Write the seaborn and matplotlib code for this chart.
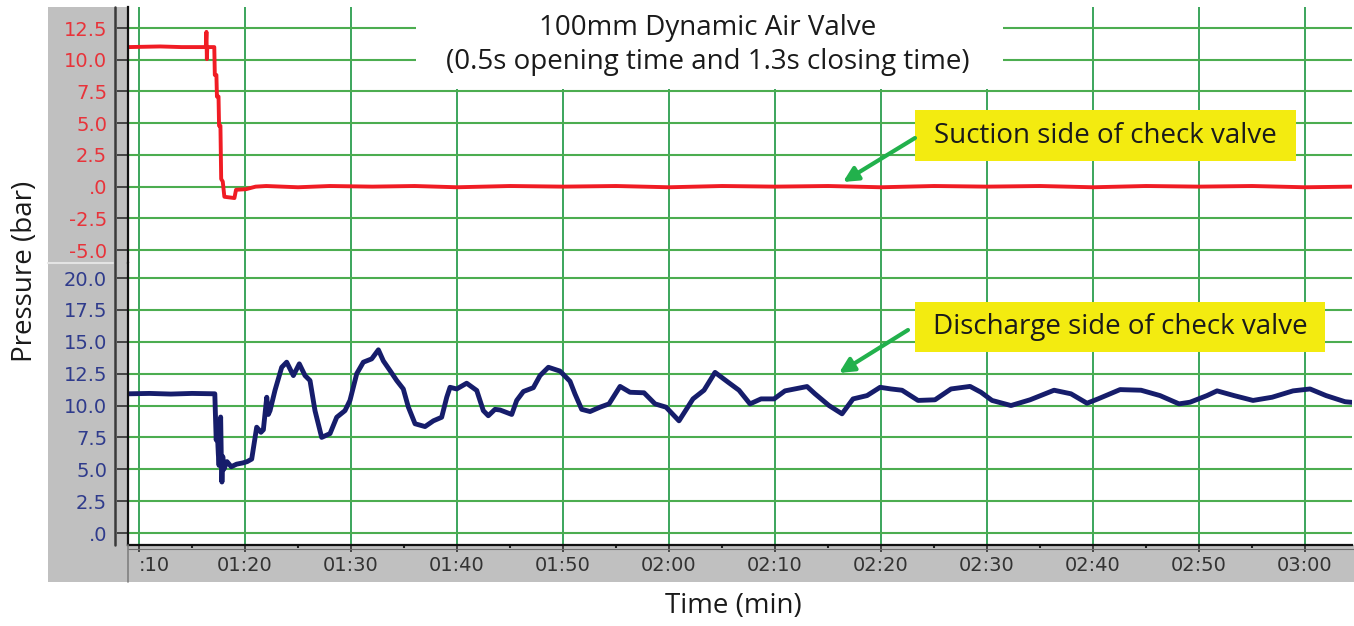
import numpy as np
import pandas as pd
import matplotlib
matplotlib.use('Agg')
import matplotlib.pyplot as plt
from matplotlib.patches import Rectangle, FancyArrowPatch
from matplotlib.lines import Line2D
from matplotlib.ticker import MultipleLocator
import seaborn as sns

# time axis in seconds (labels read mm:ss), pressure in bar
suction_t = [69.0, 72.0, 74.0, 76.3, 76.36, 76.4, 76.44, 77.1, 77.15, 77.3, 77.35, 77.5,
             77.55, 77.68, 77.75, 77.9, 78.05, 79.0, 79.15, 80.1, 81.0, 82.0, 85.0, 88.0,
             92.0, 96.0, 100.0, 105.0, 110.0, 115.0, 120.0, 125.0, 130.0, 135.0, 140.0,
             145.0, 150.0, 155.0, 160.0, 165.0, 170.0, 175.0, 180.0, 184.4]
suction_p = [11.0, 11.05, 11.0, 11.0, 12.2, 10.05, 11.0, 11.0, 8.8, 8.8, 7.1, 7.1,
             4.8, 4.8, 0.6, 0.4, -0.8, -0.9, -0.25, -0.2, 0.0, 0.05, -0.05, 0.05,
             0.0, 0.05, -0.05, 0.05, 0.0, 0.05, -0.05, 0.05, 0.0, 0.05, -0.05,
             0.05, 0.0, 0.05, -0.05, 0.05, 0.0, 0.05, -0.05, 0.0]

discharge_t = [69.0, 71.0, 73.0, 75.0, 77.15, 77.2, 77.28, 77.38, 77.48, 77.55, 77.62, 77.7,
               77.76, 77.82, 77.9, 78.0, 78.3, 78.7, 79.2, 79.8, 80.2, 80.63, 81.1, 81.5,
               81.73, 82.05, 82.2, 82.36, 82.83, 83.46, 83.93, 84.56, 85.12, 85.66, 86.13,
               86.6, 87.23, 88.02, 88.65, 89.43, 89.9, 90.54, 91.16, 91.95, 92.58, 93.05,
               93.68, 94.31, 94.93, 95.41, 96.04, 96.98, 97.77, 98.55, 99.03, 99.34, 99.97,
               100.91, 101.86, 102.48, 102.95, 103.58, 104.06, 105.16, 105.63, 106.26, 107.2,
               107.83, 108.62, 109.72, 110.66, 111.13, 111.76, 112.55, 113.49, 114.34, 115.38,
               116.32, 117.64, 118.68, 119.72, 120.94, 122.26, 123.3, 124.34, 125.57, 126.6,
               127.64, 128.68, 129.91, 130.94, 133.02, 133.77, 135.09, 136.32, 137.36, 138.68,
               139.91, 140.94, 141.98, 143.49, 145.09, 146.6, 148.4, 149.43, 150.47, 152.26,
               154.06, 156.32, 157.92, 159.43, 160.47, 162.55, 164.53, 166.32, 168.11, 169.15,
               170.75, 171.7, 173.3, 175.09, 176.89, 178.87, 180.47, 181.98, 183.77, 184.4]
discharge_p = [10.92, 10.95, 10.9, 10.95, 10.92, 9.5, 7.3, 8.0, 6.2, 5.3, 6.6, 9.1,
               6.0, 4.0, 6.0, 5.0, 5.6, 5.2, 5.4, 5.5, 5.6, 5.8, 8.3, 7.9,
               8.1, 10.65, 9.3, 9.6, 11.2, 13.0, 13.4, 12.35, 13.27, 12.35, 11.96,
               9.6, 7.5, 7.8, 9.08, 9.6, 10.4, 12.5, 13.4, 13.66, 14.37, 13.5,
               12.74, 11.96, 11.3, 9.87, 8.57, 8.35, 8.8, 9.08, 10.65, 11.43, 11.3,
               11.75, 11.18, 9.6, 9.2, 9.7, 9.65, 9.3, 10.4, 11.1, 11.4,
               12.35, 13.0, 12.7, 11.9, 10.9, 9.7, 9.53, 9.87, 10.13, 11.5,
               11.04, 11.0, 10.13, 9.87, 8.8, 10.52, 11.2, 12.6, 11.83, 11.2,
               10.13, 10.52, 10.52, 11.15, 11.49, 10.92, 10.0, 9.35, 10.52, 10.78,
               11.43, 11.3, 11.2, 10.4, 10.45, 11.3, 11.5, 11.04, 10.4, 10.0,
               10.45, 11.2, 10.92, 10.18, 10.52, 11.25, 11.2, 10.78, 10.13, 10.26,
               10.78, 11.15, 10.78, 10.4, 10.65, 11.15, 11.3, 10.78, 10.3, 10.25]

x_ticks = [70, 80, 90, 100, 110, 120, 130, 140, 150, 160, 170, 180]
x_labels = [':10', '01:20', '01:30', '01:40', '01:50', '02:00', '02:10', '02:20',
            '02:30', '02:40', '02:50', '03:00']
top_ticks = [12.5, 10.0, 7.5, 5.0, 2.5, 0.0, -2.5, -5.0]
top_labels = ['12.5', '10.0', '7.5', '5.0', '2.5', '.0', '-2.5', '-5.0']
bot_ticks = [20.0, 17.5, 15.0, 12.5, 10.0, 7.5, 5.0, 2.5, 0.0]
bot_labels = ['20.0', '17.5', '15.0', '12.5', '10.0', '7.5', '5.0', '2.5', '.0']

suction = pd.DataFrame({'t': suction_t, 'p': suction_p})
discharge = pd.DataFrame({'t': discharge_t, 'p': discharge_p})

sns.set_theme(style='white')
plt.rcParams['font.family'] = ['Open Sans', 'DejaVu Sans']

W, H = 1354, 626
RED = '#f01c24'
NAVY = '#161d6b'
HGRID = '#4cad50'
VGRID = '#1a9641'
GRAY = '#c0c0c0'
ARROW = '#22b14c'
YELLOW = '#f3eb10'
TXT = '#1a1a1a'
FS = 20


def box(x0, y0, x1, y1):
    # pixel box (top-left origin) -> figure fraction rect
    return [x0 / W, 1 - y1 / H, (x1 - x0) / W, (y1 - y0) / H]


def fpt(x, y):
    return (x / W, 1 - y / H)


fig = plt.figure(figsize=(W / 100, H / 100), dpi=100)

# gray instrument-panel frame
for b in [box(48, 7, 127, 582), box(48, 545, 1354, 582)]:
    fig.add_artist(Rectangle((b[0], b[1]), b[2], b[3], transform=fig.transFigure,
                             color=GRAY, zorder=-2, lw=0))

ax_top = fig.add_axes(box(128, 7, 1352, 263))
ax_bot = fig.add_axes(box(128, 263, 1352, 545), sharex=ax_top)

sns.lineplot(data=suction, x='t', y='p', ax=ax_top, color=RED, lw=2.8,
             estimator=None, sort=False)
sns.lineplot(data=discharge, x='t', y='p', ax=ax_bot, color=NAVY, lw=3.5,
             estimator=None, sort=False)

ax_top.set_xlim(68.96, 184.43)
ax_top.set_ylim(-6.02, 14.16)
ax_bot.set_ylim(-0.94, 21.18)

ax_bot.set_xticks(x_ticks, x_labels)
ax_bot.xaxis.set_minor_locator(MultipleLocator(5))
ax_top.set_yticks(top_ticks, top_labels)
ax_bot.set_yticks(bot_ticks, bot_labels)

for ax, lc in [(ax_top, '#e8333a'), (ax_bot, '#2f3b8c')]:
    ax.set_facecolor('white')
    ax.set_xlabel('')
    ax.set_ylabel('')
    ax.grid(True, axis='y', color=HGRID, lw=1.5)
    ax.grid(True, axis='x', color=VGRID, lw=1.2)
    ax.set_axisbelow(True)
    for s in ['top', 'right', 'bottom']:
        ax.spines[s].set_visible(False)
    ax.spines['left'].set_color('#111111')
    ax.spines['left'].set_linewidth(1.6)
    ax.tick_params(axis='y', left=True, direction='out', length=8, width=1.1,
                   color='#222222', labelcolor=lc, labelsize=14, pad=7,
                   labelfontfamily='DejaVu Sans')

ax_top.tick_params(axis='x', which='both', bottom=False, labelbottom=False)
ax_bot.spines['bottom'].set_visible(True)
ax_bot.spines['bottom'].set_color('#111111')
ax_bot.spines['bottom'].set_linewidth(1.6)
ax_bot.tick_params(axis='x', which='major', bottom=True, direction='out', length=5,
                   width=1.1, color='#222222', labelcolor='#333333', labelsize=14,
                   pad=3, labelfontfamily='DejaVu Sans')
ax_bot.tick_params(axis='x', which='minor', bottom=True, direction='out', length=2,
                   width=1.5, color='#222222')

# first time label is cut off at the panel edge; it hangs right of its tick
ax_bot.get_xticklabels()[0].set_horizontalalignment('left')

# panel details
fig.add_artist(Line2D([114.5 / W] * 2, [1 - 7 / H, 1 - 545 / H], color='#3a3a3a',
                      lw=1.8, transform=fig.transFigure, zorder=1))
fig.add_artist(Line2D([48 / W, 113 / W], [1 - 263 / H] * 2, color='#e4e4e4',
                      lw=1.5, transform=fig.transFigure, zorder=1))
fig.add_artist(Line2D([128 / W, 1354 / W], [1 - 548.5 / H] * 2, color='#707070',
                      lw=0.8, transform=fig.transFigure, zorder=1))
fig.add_artist(Line2D([128 / W] * 2, [1 - 545 / H, 1 - 582 / H], color='#808080',
                      lw=1.2, transform=fig.transFigure, zorder=1))

# title block sits on a white patch over the grid
b = box(416, 7, 1003, 89)
fig.add_artist(Rectangle((b[0], b[1]), b[2], b[3], transform=fig.transFigure,
                         color='white', zorder=3, lw=0))
fig.text(708 / W, 1 - 28 / H, '100mm Dynamic Air Valve', ha='center', va='center',
         fontsize=FS, color=TXT, zorder=4)
fig.text(708 / W, 1 - 62 / H, '(0.5s opening time and 1.3s closing time)',
         ha='center', va='center', fontsize=FS, color=TXT, zorder=4)

# callouts
callouts = [
    ('Suction side of check valve', (915, 110, 1296, 161), (915, 138), (843, 182)),
    ('Discharge side of check valve', (915, 302, 1325, 352), (908, 330), (839, 373)),
]
for text, (x0, y0, x1, y1), tail, tip in callouts:
    b = box(x0, y0, x1, y1)
    fig.add_artist(Rectangle((b[0], b[1]), b[2], b[3], transform=fig.transFigure,
                             color=YELLOW, zorder=3, lw=0))
    fig.text((x0 + x1) / 2 / W, 1 - (y0 + y1) / 2 / H, text, ha='center', va='center',
             fontsize=FS, color=TXT, zorder=4)
    fig.add_artist(FancyArrowPatch(fpt(*tail), fpt(*tip), transform=fig.transFigure,
                                   arrowstyle='-|>', color=ARROW, lw=3,
                                   mutation_scale=22, shrinkA=0, shrinkB=0, zorder=3))

fig.text(25 / W, 1 - 271 / H, 'Pressure (bar)', rotation=90, ha='center', va='center',
         fontsize=FS, color=TXT)
fig.text(733 / W, 1 - 606 / H, 'Time (min)', ha='center', va='center',
         fontsize=FS, color=TXT)

fig.savefig('out.png', dpi=100, facecolor='white')
